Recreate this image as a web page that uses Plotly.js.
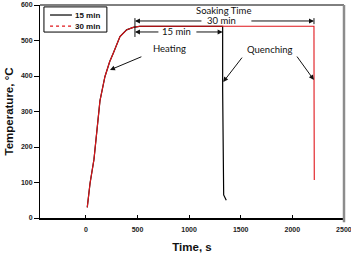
<!DOCTYPE html>
<html>
<head>
<meta charset="utf-8">
<script src="https://cdn.plot.ly/plotly-3.0.1.min.js"></script>
<style>
  html, body { margin: 0; padding: 0; background: #fff; }
  #chart { width: 351px; height: 257px; }
</style>
</head>
<body>
<div id="chart"></div>
<script>
// Heating stage shared by both runs (time in s, temperature in °C)
const heatTime = [13, 40, 78, 104, 136, 184, 230, 265, 300, 330, 394, 458, 520];
const heatTemp = [30, 98, 165, 245, 330, 398, 440, 464, 490, 511, 530, 537, 540];

// Quench after 15 min soaking
const quench15Time = [1325, 1325, 1328, 1335, 1360];
const quench15Temp = [540, 360, 112, 65, 50];

// Quench after 30 min soaking
const quench30Time = [2210, 2211, 2213];
const quench30Temp = [540, 330, 107];

const seriesNames = ['15 min', '30 min'];
const seriesColors = ['#000000', '#e0161b'];

// Key instants used by the dimension arrows
const soakStart = 475;
const soakEnd15 = quench15Time[0];
const soakEnd30 = quench30Time[0];

const xTicks = [0, 500, 1000, 1500, 2000, 2500];
const yTicks = [0, 100, 200, 300, 400, 500, 600];

const traces = [
  {
    x: heatTime.concat(quench15Time),
    y: heatTemp.concat(quench15Temp),
    name: seriesNames[0],
    mode: 'lines',
    line: { color: seriesColors[0], width: 1.2 }
  },
  {
    x: heatTime.concat(quench30Time),
    y: heatTemp.concat(quench30Temp),
    name: seriesNames[1],
    mode: 'lines',
    line: { color: seriesColors[1], width: 1.1 }
  }
];

const txtFont = { family: 'Lato, "Open Sans", sans-serif', size: 9.5, color: '#111' };
const arrowBase = {
  xref: 'x', yref: 'y', axref: 'x', ayref: 'y',
  text: '', showarrow: true, arrowhead: 2, arrowsize: 1, arrowwidth: 1, arrowcolor: '#111'
};
const label = (x, y, text) => ({ xref: 'x', yref: 'y', x: x, y: y, text: text, showarrow: false, font: txtFont, borderpad: 0 });

const yDim30 = 555, yDim15 = 524;

// Legend box drawn in paper space
const legFont = { family: 'Arial, "Liberation Sans", sans-serif', size: 8, color: '#111', weight: 'bold' };
const legRows = [0.953, 0.901];

const annotations = [
  label(1337, 584, 'Soaking Time'),
  label(1315, yDim30, '30 min'),
  label(882, yDim15, '15 min'),
  label(809, 478, 'Heating'),
  label(1783, 475, 'Quenching'),
  // 30 min dimension arrow
  Object.assign({}, arrowBase, { x: soakStart, y: yDim30, ax: 1134, ay: yDim30 }),
  Object.assign({}, arrowBase, { x: soakEnd30, y: yDim30, ax: 1589, ay: yDim30 }),
  // 15 min dimension arrow
  Object.assign({}, arrowBase, { x: soakStart, y: yDim15, ax: 717, ay: yDim15 }),
  Object.assign({}, arrowBase, { x: soakEnd15, y: yDim15, ax: 1056, ay: yDim15 }),
  // stage pointers
  Object.assign({}, arrowBase, { x: 233, y: 417, ax: 552, ay: 456 }),
  Object.assign({}, arrowBase, { x: 1330, y: 383, ax: 1524, ay: 456 }),
  Object.assign({}, arrowBase, { x: 2209, y: 389, ax: 2035, ay: 459 })
].concat(seriesNames.map((n, i) => ({
  xref: 'paper', yref: 'paper', x: 0.112, y: legRows[i], xanchor: 'left', yanchor: 'middle',
  text: n, showarrow: false, font: legFont, borderpad: 0
})));

const shapes = [
  // end bars of the dimension arrows
  { type: 'line', xref: 'x', yref: 'y', x0: soakStart, x1: soakStart, y0: 510, y1: 563, line: { color: '#111', width: 1 } },
  { type: 'line', xref: 'x', yref: 'y', x0: soakEnd30, x1: soakEnd30, y0: 546, y1: 563, line: { color: '#111', width: 1 } },
  // frame: top edge and right edge
  { type: 'line', xref: 'paper', yref: 'paper', x0: 0, x1: 1, y0: 1, y1: 1, line: { color: '#000', width: 1 } },
  { type: 'line', xref: 'paper', yref: 'paper', x0: 1, x1: 1, y0: -0.02, y1: 1, line: { color: '#8c8c8c', width: 2.5 } },
  // legend frame and keys
  { type: 'rect', xref: 'paper', yref: 'paper', x0: 0.013, x1: 0.220, y0: 0.873, y1: 0.991, line: { color: '#000', width: 1 }, fillcolor: '#fff' },
  { type: 'line', xref: 'paper', yref: 'paper', x0: 0.033, x1: 0.105, y0: legRows[0], y1: legRows[0], line: { color: seriesColors[0], width: 1.2 } },
  { type: 'line', xref: 'paper', yref: 'paper', x0: 0.033, x1: 0.105, y0: legRows[1], y1: legRows[1], line: { color: seriesColors[1], width: 1.3, dash: 'dot' } }
];

const tickFont = { family: 'Arial, "Liberation Sans", sans-serif', size: 7, color: '#222', weight: 'bold' };
const titleFont = { family: 'Arial, "Liberation Sans", sans-serif', size: 11.5, color: '#111', weight: 'bold' };

const layout = {
  width: 351, height: 257,
  margin: { l: 40, r: 7, t: 5, b: 39 },
  paper_bgcolor: '#fff', plot_bgcolor: '#fff',
  showlegend: false,
  xaxis: {
    range: [-445, 2501], tickvals: xTicks, ticktext: xTicks.map(String),
    showgrid: false, zeroline: false,
    showline: true, linecolor: '#000', linewidth: 1.5,
    ticks: 'inside', ticklen: 3, tickcolor: '#000', tickwidth: 1,
    tickfont: tickFont, ticklabelstandoff: 4, ticklabeloverflow: 'allow',
    title: { text: 'Time, s', font: titleFont, standoff: 11 }
  },
  yaxis: {
    range: [0, 600], tickvals: yTicks, ticktext: yTicks.map(String),
    showgrid: false, zeroline: false,
    showline: true, linecolor: '#000', linewidth: 1,
    ticks: 'outside', ticklen: 5, tickcolor: '#000', tickwidth: 1,
    tickfont: tickFont,
    title: { text: 'Temperature, °C', font: titleFont, standoff: 4 }
  },
  annotations: annotations,
  shapes: shapes
};

Plotly.newPlot('chart', traces, layout, { displayModeBar: false, staticPlot: true });
</script>
</body>
</html>
